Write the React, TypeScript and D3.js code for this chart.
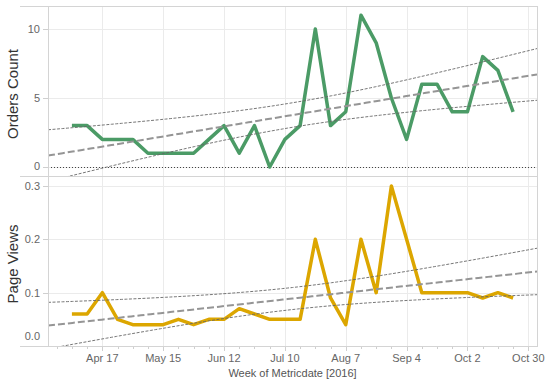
import { useEffect, useRef } from "react";
import * as d3 from "d3";

// weekly categories (week starting Sunday)
const weeks = [
  "2016-04-03", "2016-04-10", "2016-04-17", "2016-04-24", "2016-05-01",
  "2016-05-08", "2016-05-15", "2016-05-22", "2016-05-29", "2016-06-05",
  "2016-06-12", "2016-06-19", "2016-06-26", "2016-07-03", "2016-07-10",
  "2016-07-17", "2016-07-24", "2016-07-31", "2016-08-07", "2016-08-14",
  "2016-08-21", "2016-08-28", "2016-09-04", "2016-09-11", "2016-09-18",
  "2016-09-25", "2016-10-02", "2016-10-09", "2016-10-16", "2016-10-23",
];

const ordersCount = [
  3, 3, 2, 2, 2, 1, 1, 1, 1, 2, 3, 1, 3, 0, 2, 3, 10, 3, 4, 11, 9, 5, 2, 6, 6,
  4, 4, 8, 7, 4,
];

const pageViews = [
  0.06, 0.06, 0.1, 0.05, 0.04, 0.04, 0.04, 0.05, 0.04, 0.05, 0.05, 0.07, 0.06,
  0.05, 0.05, 0.05, 0.2, 0.09, 0.04, 0.2, 0.1, 0.3, 0.2, 0.1, 0.1, 0.1, 0.1,
  0.09, 0.1, 0.09,
];

const xTickLabels = ["Apr 17", "May 15", "Jun 12", "Jul 10", "Aug 7", "Sep 4", "Oct 2", "Oct 30"];
const ordersTicks = [0, 5, 10];
const viewsTicks = [0, 0.1, 0.2, 0.3];

const W = 549;
const H = 389;
const left = 48;
const right = 537;
const FONT = "'Liberation Sans', Arial, sans-serif";
const T_CRIT = 2.048; // t(0.975, df = 28)

const parseDay = d3.utcParse("%Y-%m-%d");
const parseTick = d3.utcParse("%b %d %Y");

const drawChart = (element: SVGSVGElement) => {
  const svg = d3.select(element);
  svg.selectAll("*").remove();

  const dates = weeks.map((w) => parseDay(w) as Date);
  const x = d3
    .scaleUtc()
    .domain([parseDay("2016-03-23") as Date, parseDay("2016-11-03") as Date])
    .range([left, right]);
  const tickDates = xTickLabels.map((t) => parseTick(t + " 2016") as Date);
  const minorTicks = d3.utcSunday.range(x.domain()[0], x.domain()[1]);

  const panels = [
    {
      id: "orders",
      top: 6,
      bottom: 176,
      values: ordersCount,
      ticks: ordersTicks,
      fmt: d3.format("d"),
      domain: [-0.652, 11.667],
      color: "#4b9b66",
      title: "Orders Count",
      zeroLine: true,
    },
    {
      id: "views",
      top: 176,
      bottom: 346,
      values: pageViews,
      ticks: viewsTicks,
      fmt: d3.format(".1f"),
      domain: [0, 0.3187],
      color: "#dca600",
      title: "Page Views",
      zeroLine: false,
    },
  ];

  const defs = svg.append("defs");

  panels.forEach((p) => {
    const y = d3.scaleLinear().domain(p.domain).range([p.bottom, p.top]);

    defs
      .append("clipPath")
      .attr("id", `clip-${p.id}`)
      .append("rect")
      .attr("x", left)
      .attr("y", p.top)
      .attr("width", right - left)
      .attr("height", p.bottom - p.top);

    const g = svg.append("g");

    // horizontal grid
    g.selectAll("line.hgrid")
      .data(p.ticks)
      .enter()
      .append("line")
      .attr("x1", left)
      .attr("x2", right)
      .attr("y1", (d) => Math.round(y(d)) + 0.5)
      .attr("y2", (d) => Math.round(y(d)) + 0.5)
      .attr("stroke", "#ebebeb")
      .attr("stroke-width", 1);

    // vertical grid
    g.selectAll("line.vgrid")
      .data(tickDates)
      .enter()
      .append("line")
      .attr("x1", (d) => Math.round(x(d)) + 0.5)
      .attr("x2", (d) => Math.round(x(d)) + 0.5)
      .attr("y1", p.top)
      .attr("y2", p.bottom)
      .attr("stroke", "#ebebeb")
      .attr("stroke-width", 1);

    // y ticks + labels
    g.selectAll("line.ytick")
      .data(p.ticks)
      .enter()
      .append("line")
      .attr("x1", left - 5)
      .attr("x2", left)
      .attr("y1", (d) => Math.round(y(d)) + 0.5)
      .attr("y2", (d) => Math.round(y(d)) + 0.5)
      .attr("stroke", "#cfcfcf");

    g.selectAll("text.ylab")
      .data(p.ticks)
      .enter()
      .append("text")
      .attr("x", left - 8)
      .attr("y", (d) => Math.min(y(d), p.bottom - 9.5))
      .attr("dy", "0.35em")
      .attr("text-anchor", "end")
      .attr("font-family", FONT)
      .attr("font-size", 11)
      .attr("fill", "#666")
      .text((d) => p.fmt(d));

    g.append("text")
      .attr("transform", `translate(18,${(p.top + p.bottom) / 2 + 3}) rotate(-90)`)
      .attr("text-anchor", "middle")
      .attr("font-family", FONT)
      .attr("font-size", 15)
      .attr("fill", "#333")
      .text(p.title);

    if (p.zeroLine) {
      g.append("line")
        .attr("x1", left)
        .attr("x2", right - 2)
        .attr("y1", Math.round(y(0)) + 0.5)
        .attr("y2", Math.round(y(0)) + 0.5)
        .attr("stroke", "#444")
        .attr("stroke-dasharray", "1,2");
    }

    // data line
    const line = d3
      .line<number>()
      .x((_, i) => x(dates[i]))
      .y((d) => y(d));

    g.append("path")
      .datum(p.values)
      .attr("d", line)
      .attr("fill", "none")
      .attr("stroke", p.color)
      .attr("stroke-width", 3.5)
      .attr("stroke-linejoin", "round")
      .attr("stroke-linecap", "butt");

    // linear trend with 95% confidence band
    const xs = dates.map((d) => d.getTime() / 864e5);
    const n = xs.length;
    const mx = d3.mean(xs) as number;
    const my = d3.mean(p.values) as number;
    const sxx = d3.sum(xs, (v) => (v - mx) ** 2);
    const sxy = d3.sum(xs, (v, i) => (v - mx) * (p.values[i] - my));
    const b = sxy / sxx;
    const a = my - b * mx;
    const sse = d3.sum(xs, (v, i) => (p.values[i] - (a + b * v)) ** 2);
    const s = Math.sqrt(sse / (n - 2));

    const samples = d3.range(0, 101).map((k) => {
      const px = left + ((right - left) * k) / 100;
      const dx = x.invert(px).getTime() / 864e5;
      const fit = a + b * dx;
      const half = T_CRIT * s * Math.sqrt(1 / n + (dx - mx) ** 2 / sxx);
      return { px, fit, lo: fit - half, hi: fit + half };
    });

    const tg = g.append("g").attr("clip-path", `url(#clip-${p.id})`);
    const trendLine = (key: "fit" | "lo" | "hi") =>
      d3
        .line<{ px: number; fit: number; lo: number; hi: number }>()
        .x((d) => d.px)
        .y((d) => y(d[key]));

    (["lo", "hi"] as const).forEach((k) => {
      tg.append("path")
        .datum(samples)
        .attr("d", trendLine(k))
        .attr("fill", "none")
        .attr("stroke", "#666")
        .attr("stroke-width", 0.9)
        .attr("stroke-dasharray", "3,1.5");
    });
    tg.append("path")
      .datum(samples)
      .attr("d", trendLine("fit"))
      .attr("fill", "none")
      .attr("stroke", "#959595")
      .attr("stroke-width", 2)
      .attr("stroke-dasharray", "7,3");
  });

  // frame lines
  const frame = svg.append("g").attr("stroke", "#d4d4d4").attr("stroke-width", 1);
  [6, 176, 346].forEach((yy) => {
    frame
      .append("line")
      .attr("x1", 20)
      .attr("x2", right + 1)
      .attr("y1", yy + 0.5)
      .attr("y2", yy + 0.5);
  });
  [left, right].forEach((xx) => {
    frame
      .append("line")
      .attr("x1", xx + 0.5)
      .attr("x2", xx + 0.5)
      .attr("y1", 6)
      .attr("y2", 347);
  });

  // x axis ticks
  const axis = svg.append("g");
  axis
    .selectAll("line.minor")
    .data(minorTicks)
    .enter()
    .append("line")
    .attr("x1", (d) => Math.round(x(d)) + 0.5)
    .attr("x2", (d) => Math.round(x(d)) + 0.5)
    .attr("y1", 347)
    .attr("y2", 349)
    .attr("stroke", "#cfcfcf");
  axis
    .selectAll("line.major")
    .data(tickDates)
    .enter()
    .append("line")
    .attr("x1", (d) => Math.round(x(d)) + 0.5)
    .attr("x2", (d) => Math.round(x(d)) + 0.5)
    .attr("y1", 347)
    .attr("y2", 351)
    .attr("stroke", "#cfcfcf");
  axis
    .selectAll("text")
    .data(tickDates)
    .enter()
    .append("text")
    .attr("x", (d) => x(d))
    .attr("y", 362)
    .attr("text-anchor", "middle")
    .attr("font-family", FONT)
    .attr("font-size", 11)
    .attr("fill", "#666")
    .text((_, i) => xTickLabels[i]);

  svg
    .append("text")
    .attr("x", (left + right) / 2)
    .attr("y", 377)
    .attr("text-anchor", "middle")
    .attr("font-family", FONT)
    .attr("font-size", 11)
    .attr("fill", "#555")
    .text("Week of Metricdate [2016]");
};

export default function App() {
  const ref = useRef<SVGSVGElement>(null);

  useEffect(() => {
    document.body.style.margin = "0";
    if (ref.current) drawChart(ref.current);
  }, []);

  return (
    <svg
      ref={ref}
      width={W}
      height={H}
      style={{ display: "block", background: "#fff" }}
    />
  );
}
